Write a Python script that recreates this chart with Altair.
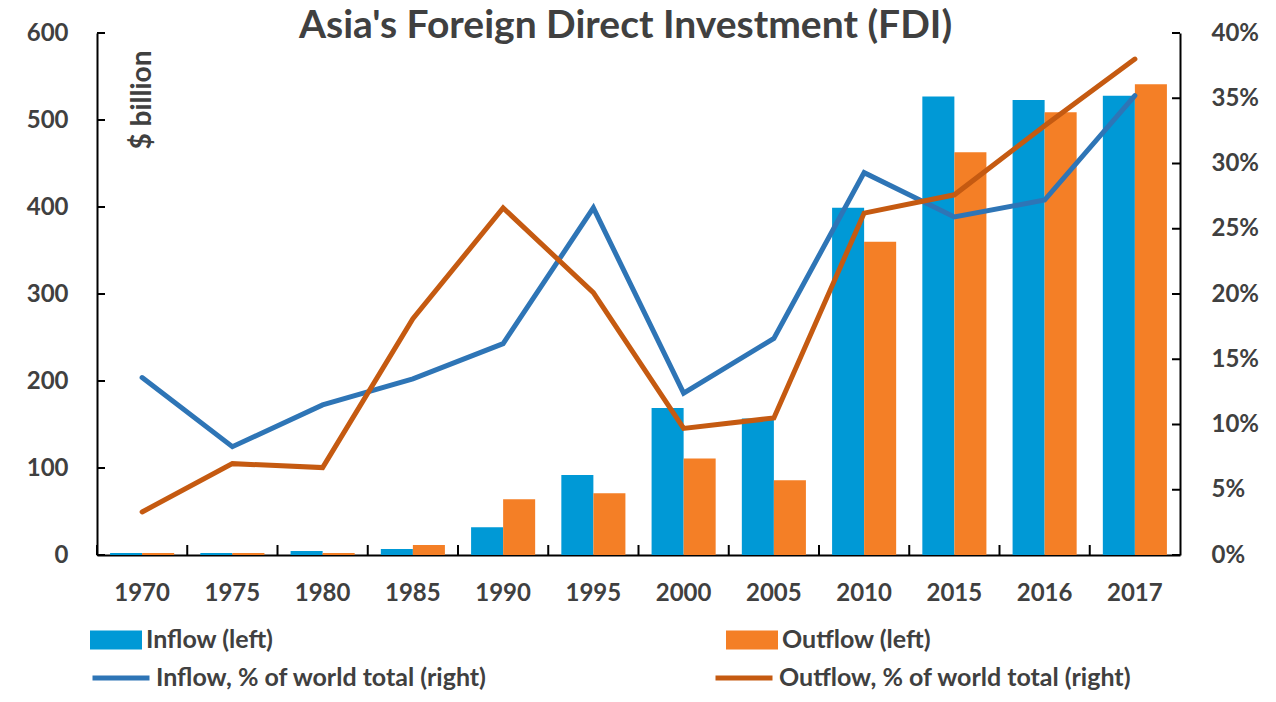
import altair as alt
import pandas as pd

years = ["1970", "1975", "1980", "1985", "1990", "1995", "2000", "2005", "2010", "2015", "2016", "2017"]
inflow = [2.3, 2.3, 4.6, 7, 32, 92, 169, 157, 399, 527, 523, 528]
outflow = [2.3, 2.3, 2.3, 11.5, 64, 71, 111, 86, 360, 463, 509, 541]
inflow_pct = [13.6, 8.3, 11.5, 13.5, 16.2, 26.6, 12.4, 16.6, 29.3, 25.9, 27.2, 35.2]
outflow_pct = [3.3, 7.0, 6.7, 18.1, 26.6, 20.1, 9.7, 10.5, 26.2, 27.6, 32.9, 38.0]
left_ticks = [0, 100, 200, 300, 400, 500, 600]
right_ticks = [0, 0.05, 0.1, 0.15, 0.2, 0.25, 0.3, 0.35, 0.4]

bar_names = ["Inflow (left)", "Outflow (left)"]
line_names = ["Inflow, % of world total (right)", "Outflow, % of world total (right)"]
bar_colors = ["#0099D6", "#F47F26"]
line_colors = ["#2E75B6", "#C55A11"]

FONT = "Lato"
TXT = "#404040"
PAD_INNER = 0.29
W = 1083
H = 522
HALF_GAP = PAD_INNER * (W / len(years)) / 2

bars_df = pd.DataFrame({
    "year": years * 2,
    "series": [bar_names[0]] * len(years) + [bar_names[1]] * len(years),
    "value": inflow + outflow,
})
lines_df = pd.DataFrame({
    "year": years * 2,
    "series": [line_names[0]] * len(years) + [line_names[1]] * len(years),
    "pct": [v / 100 for v in inflow_pct] + [v / 100 for v in outflow_pct],
})
lt_df = pd.DataFrame({"value": left_ticks})
rt_df = pd.DataFrame({"pct": right_ticks})
xt_df = pd.DataFrame({"year": years})

x_scale = alt.Scale(paddingInner=PAD_INNER, paddingOuter=PAD_INNER / 2)
x_axis = alt.Axis(labelAngle=0, labelFontSize=24, labelFont=FONT, labelFontWeight="bold",
                  labelColor=TXT, labelPadding=18, domainColor="black", domainWidth=2,
                  tickOpacity=0, tickSize=8)
left_scale = alt.Scale(domain=[0, 600], nice=False)
right_scale = alt.Scale(domain=[0, 0.4], nice=False)
left_axis = alt.Axis(values=left_ticks, grid=False,
                     labelFontSize=24, labelFont=FONT, labelFontWeight="bold",
                     labelColor=TXT, labelPadding=22, domainColor="black", domainWidth=2,
                     tickOpacity=0, tickSize=7,
                     titleFont=FONT, titleFontSize=28, titleFontWeight="bold",
                     titleColor=TXT, titleAngle=-90, titleX=45, titleY=17,
                     titleAlign="right", titleBaseline="middle")
right_axis = alt.Axis(orient="right", format=".0%", values=right_ticks, grid=False,
                      labelFontSize=24, labelFont=FONT, labelFontWeight="bold",
                      labelColor=TXT, labelPadding=24, domainColor="black", domainWidth=2,
                      tickOpacity=0, tickSize=7)

x_enc = alt.X("year:N", sort=years, title=None, scale=x_scale, axis=x_axis)

bars = alt.Chart(bars_df).mark_bar().encode(
    x=x_enc,
    xOffset=alt.XOffset("series:N", sort=bar_names),
    y=alt.Y("value:Q", title="$ billion", scale=left_scale, axis=left_axis),
    color=alt.Color("series:N", sort=bar_names,
                    scale=alt.Scale(domain=bar_names, range=bar_colors),
                    legend=alt.Legend(title=None, orient="none", legendX=-7, legendY=581,
                                      direction="horizontal", columns=2, columnPadding=452,
                                      symbolType="M-1,-0.37H1V0.37H-1Z", symbolSize=2704,
                                      symbolStrokeWidth=0, labelFont=FONT, labelFontSize=25,
                                      labelFontWeight="bold", labelColor=TXT, labelOffset=4,
                                      labelLimit=600)),
)

left_tick_marks = alt.Chart(lt_df).mark_rule(color="black", strokeWidth=2).encode(
    y=alt.Y("value:Q", title="$ billion", scale=left_scale, axis=left_axis),
    x=alt.value(0), x2=alt.value(8),
)

x_tick_marks = alt.Chart(xt_df).mark_rule(color="black", strokeWidth=2, xOffset=-HALF_GAP).encode(
    x=alt.X("year:N", sort=years, title=None, scale=x_scale, bandPosition=0, axis=x_axis),
    y=alt.value(H - 10), y2=alt.value(H),
)

lines = alt.Chart(lines_df).mark_line(strokeWidth=5, strokeCap="round").encode(
    x=x_enc,
    y=alt.Y("pct:Q", title=None, scale=right_scale, axis=right_axis),
    color=alt.Color("series:N", sort=line_names,
                    scale=alt.Scale(domain=line_names, range=line_colors),
                    legend=alt.Legend(title=None, orient="none", legendX=-7, legendY=614,
                                      direction="horizontal", columns=2, columnPadding=218,
                                      symbolType="stroke", symbolSize=3249,
                                      symbolStrokeWidth=5, labelFont=FONT, labelFontSize=25,
                                      labelFontWeight="bold", labelColor=TXT, labelOffset=4,
                                      labelLimit=600)),
)

right_tick_marks = alt.Chart(rt_df).mark_rule(color="black", strokeWidth=2).encode(
    y=alt.Y("pct:Q", title=None, scale=right_scale, axis=right_axis),
    x=alt.value(W - 8), x2=alt.value(W),
)

left_group = alt.layer(bars, left_tick_marks, x_tick_marks)
right_group = alt.layer(lines, right_tick_marks)

chart = alt.layer(left_group, right_group).resolve_scale(
    y="independent", color="independent"
).properties(
    width=W, height=H,
    autosize=alt.AutoSizeParams(type="none"),
    padding={"left": 89, "top": 25, "right": 88, "bottom": 139},
    title=alt.TitleParams("Asia's Foreign Direct Investment (FDI)", font=FONT, fontSize=39,
                          fontWeight="bold", color=TXT, anchor="middle", frame="group",
                          dx=-13, offset=-25),
).configure_view(stroke=None)

chart.save("out.html", embed_options={"renderer": "svg", "actions": False})
